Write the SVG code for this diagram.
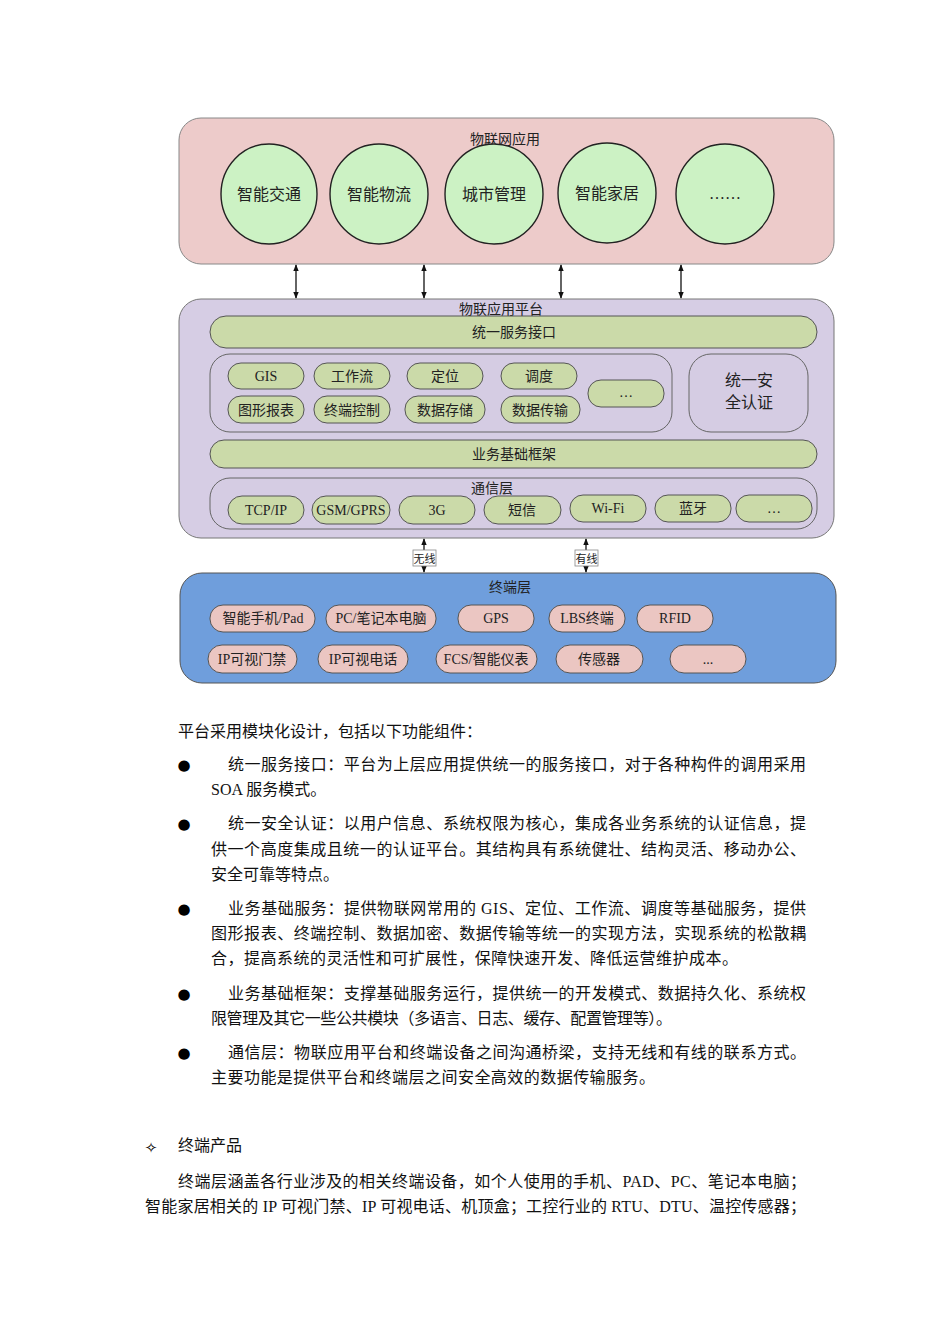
<svg xmlns="http://www.w3.org/2000/svg" width="950" height="1344" viewBox="0 0 950 1344">
<style>
.t{font-family:"Liberation Serif","Noto Sans CJK SC",serif;fill:#222;text-anchor:middle}
.body{font-family:"Liberation Serif","Noto Sans CJK SC",serif;fill:#111;font-size:16px}
.bul{font-family:"DejaVu Sans",sans-serif;fill:#000;font-size:15px;text-anchor:middle}
.ell{fill:#ccf2c4;stroke:#222;stroke-width:1.4}
.grn{fill:#cbdaa9;stroke:#555;stroke-width:1}
.pnk{fill:#ebc6c2;stroke:#555;stroke-width:1}
.lav{fill:#d5cce3;stroke:#666;stroke-width:1}
.arr{stroke:#111;stroke-width:1.3;fill:none;marker-start:url(#ah);marker-end:url(#ah)}
</style>
<defs>
<marker id="ah" viewBox="0 0 10 10" refX="9" refY="5" markerWidth="7" markerHeight="7" orient="auto-start-reverse" markerUnits="userSpaceOnUse"><path d="M0,1 L10,5 L0,9 z" fill="#111"/></marker>
</defs>
<rect width="950" height="1344" fill="#fff"/>

<g id="app-layer">
<rect x="179" y="118" width="655" height="146" rx="22" fill="#edcbca" stroke="#888" stroke-width="1"/>
<text class="t" x="505" y="144" font-size="14">物联网应用</text>
</g>
<g id="app1"><ellipse class="ell" cx="269" cy="194" rx="48" ry="50"/><text class="t" x="269" y="200" font-size="16">智能交通</text></g>
<g id="app2"><ellipse class="ell" cx="379" cy="194" rx="49" ry="50"/><text class="t" x="379" y="200" font-size="16">智能物流</text></g>
<g id="app3"><ellipse class="ell" cx="494" cy="194" rx="49" ry="50"/><text class="t" x="494" y="200" font-size="16">城市管理</text></g>
<g id="app4"><ellipse class="ell" cx="607" cy="193" rx="49" ry="50"/><text class="t" x="607" y="199" font-size="16">智能家居</text></g>
<g id="app5"><ellipse class="ell" cx="725" cy="194" rx="49" ry="50"/><text class="t" x="725" y="199" font-size="16">……</text></g>

<g id="platform">
<rect x="179" y="299" width="655" height="239" rx="22" fill="#d6cde4" stroke="#777" stroke-width="1"/>
<text class="t" x="501" y="314" font-size="14">物联应用平台</text>
</g>
<g id="svc-if"><rect class="grn" x="210" y="316" width="607" height="32" rx="16"/><text class="t" x="514" y="337" font-size="14">统一服务接口</text></g>
<g id="basic-svc">
<rect class="lav" x="210" y="354" width="462" height="78" rx="20"/>
</g>
<g id="gis"><rect class="grn" x="228" y="363" width="76" height="26" rx="13"/><text class="t" x="266" y="381" font-size="14">GIS</text></g>
<g id="workflow"><rect class="grn" x="314" y="363" width="76" height="26" rx="13"/><text class="t" x="352" y="381" font-size="14">工作流</text></g>
<g id="locate"><rect class="grn" x="407" y="363" width="76" height="26" rx="13"/><text class="t" x="445" y="381" font-size="14">定位</text></g>
<g id="dispatch"><rect class="grn" x="501" y="363" width="76" height="26" rx="13"/><text class="t" x="539" y="381" font-size="14">调度</text></g>
<g id="chart"><rect class="grn" x="228" y="396" width="76" height="27" rx="13"/><text class="t" x="266" y="415" font-size="14">图形报表</text></g>
<g id="termctl"><rect class="grn" x="314" y="396" width="76" height="27" rx="13"/><text class="t" x="352" y="415" font-size="14">终端控制</text></g>
<g id="store"><rect class="grn" x="405" y="396" width="80" height="27" rx="13"/><text class="t" x="445" y="415" font-size="14">数据存储</text></g>
<g id="transfer"><rect class="grn" x="501" y="396" width="79" height="27" rx="13"/><text class="t" x="540" y="415" font-size="14">数据传输</text></g>
<g id="svc-more"><rect class="grn" x="588" y="380" width="76" height="27" rx="13"/><text class="t" x="626" y="397" font-size="14">…</text></g>
<g id="auth"><rect class="lav" x="689" y="354" width="119" height="78" rx="22"/><text class="t" x="749" y="386" font-size="16">统一安</text><text class="t" x="749" y="408" font-size="16">全认证</text></g>
<g id="framework"><rect class="grn" x="210" y="440" width="607" height="28" rx="14"/><text class="t" x="514" y="459" font-size="14">业务基础框架</text></g>
<g id="comm">
<rect class="lav" x="210" y="478" width="607" height="51" rx="20"/>
<text class="t" x="492" y="493" font-size="14">通信层</text>
</g>
<g id="tcp"><rect class="grn" x="228" y="496" width="76" height="28" rx="14"/><text class="t" x="266" y="515" font-size="14">TCP/IP</text></g>
<g id="gsm"><rect class="grn" x="312" y="496" width="78" height="28" rx="14"/><text class="t" x="351" y="515" font-size="14">GSM/GPRS</text></g>
<g id="g3"><rect class="grn" x="399" y="496" width="76" height="28" rx="14"/><text class="t" x="437" y="515" font-size="14">3G</text></g>
<g id="sms"><rect class="grn" x="484" y="496" width="77" height="28" rx="14"/><text class="t" x="522" y="515" font-size="14">短信</text></g>
<g id="wifi"><rect class="grn" x="570" y="495" width="76" height="27" rx="13"/><text class="t" x="608" y="513" font-size="14">Wi-Fi</text></g>
<g id="bt"><rect class="grn" x="655" y="495" width="76" height="27" rx="13"/><text class="t" x="693" y="513" font-size="14">蓝牙</text></g>
<g id="comm-more"><rect class="grn" x="736" y="495" width="76" height="27" rx="13"/><text class="t" x="774" y="513" font-size="14">…</text></g>

<g id="terminal">
<rect x="180" y="573" width="656" height="110" rx="22" fill="#6f9edc" stroke="#555" stroke-width="1"/>
<text class="t" x="510" y="592" font-size="14">终端层</text>
</g>
<g id="phone"><rect class="pnk" x="210" y="605" width="105" height="27" rx="13"/><text class="t" x="263" y="623" font-size="14">智能手机/Pad</text></g>
<g id="pc"><rect class="pnk" x="326" y="605" width="110" height="27" rx="13"/><text class="t" x="381" y="623" font-size="14">PC/笔记本电脑</text></g>
<g id="gps"><rect class="pnk" x="458" y="605" width="76" height="27" rx="13"/><text class="t" x="496" y="623" font-size="14">GPS</text></g>
<g id="lbs"><rect class="pnk" x="549" y="605" width="76" height="27" rx="13"/><text class="t" x="587" y="623" font-size="14">LBS终端</text></g>
<g id="rfid"><rect class="pnk" x="637" y="605" width="76" height="27" rx="13"/><text class="t" x="675" y="623" font-size="14">RFID</text></g>
<g id="ipdoor"><rect class="pnk" x="208" y="645" width="89" height="28" rx="14"/><text class="t" x="252" y="664" font-size="14">IP可视门禁</text></g>
<g id="ipphone"><rect class="pnk" x="318" y="645" width="90" height="28" rx="14"/><text class="t" x="363" y="664" font-size="14">IP可视电话</text></g>
<g id="fcs"><rect class="pnk" x="436" y="645" width="101" height="28" rx="14"/><text class="t" x="486" y="664" font-size="14">FCS/智能仪表</text></g>
<g id="sensor"><rect class="pnk" x="556" y="645" width="87" height="28" rx="14"/><text class="t" x="599" y="664" font-size="14">传感器</text></g>
<g id="term-more"><rect class="pnk" x="670" y="645" width="76" height="28" rx="14"/><text class="t" x="708" y="664" font-size="14">...</text></g>

<g id="connectors">
<line class="arr" x1="296" y1="265" x2="296" y2="298"/>
<line class="arr" x1="424" y1="265" x2="424" y2="298"/>
<line class="arr" x1="561" y1="265" x2="561" y2="298"/>
<line class="arr" x1="681" y1="265" x2="681" y2="298"/>
<line class="arr" x1="424" y1="539" x2="424" y2="572"/>
<line class="arr" x1="586" y1="539" x2="586" y2="572"/>
<rect x="413" y="550" width="23" height="16" fill="#fff" stroke="#888" stroke-width="0.8"/>
<text class="t" x="424.5" y="563" font-size="11">无线</text>
<rect x="575" y="550" width="23" height="16" fill="#fff" stroke="#888" stroke-width="0.8"/>
<text class="t" x="586.5" y="563" font-size="11">有线</text>
</g>

<g id="text-body">
<text class="body" x="178" y="737">平台采用模块化设计，包括以下功能组件：</text>
<text class="bul" x="184" y="770">●</text>
<text class="body" x="228" y="770" textLength="578" lengthAdjust="spacing">统一服务接口：平台为上层应用提供统一的服务接口，对于各种构件的调用采用</text>
<text class="body" x="211" y="795">SOA 服务模式。</text>
<text class="bul" x="184" y="829">●</text>
<text class="body" x="228" y="829" textLength="578" lengthAdjust="spacing">统一安全认证：以用户信息、系统权限为核心，集成各业务系统的认证信息，提</text>
<text class="body" x="211" y="855" textLength="595" lengthAdjust="spacing">供一个高度集成且统一的认证平台。其结构具有系统健壮、结构灵活、移动办公、</text>
<text class="body" x="211" y="880">安全可靠等特点。</text>
<text class="bul" x="184" y="914">●</text>
<text class="body" x="228" y="914" textLength="578" lengthAdjust="spacing">业务基础服务：提供物联网常用的 GIS、定位、工作流、调度等基础服务，提供</text>
<text class="body" x="211" y="939" textLength="595" lengthAdjust="spacing">图形报表、终端控制、数据加密、数据传输等统一的实现方法，实现系统的松散耦</text>
<text class="body" x="211" y="964" textLength="527" lengthAdjust="spacing">合，提高系统的灵活性和可扩展性，保障快速开发、降低运营维护成本。</text>
<text class="bul" x="184" y="999">●</text>
<text class="body" x="228" y="999" textLength="578" lengthAdjust="spacing">业务基础框架：支撑基础服务运行，提供统一的开发模式、数据持久化、系统权</text>
<text class="body" x="211" y="1024" textLength="461" lengthAdjust="spacing">限管理及其它一些公共模块（多语言、日志、缓存、配置管理等）。</text>
<text class="bul" x="184" y="1058">●</text>
<text class="body" x="228" y="1058" textLength="578" lengthAdjust="spacing">通信层：物联应用平台和终端设备之间沟通桥梁，支持无线和有线的联系方式。</text>
<text class="body" x="211" y="1083" textLength="444" lengthAdjust="spacing">主要功能是提供平台和终端层之间安全高效的数据传输服务。</text>
<text class="bul" x="151" y="1153" font-size="22">✧</text>
<text class="body" x="178" y="1151">终端产品</text>
<text class="body" x="178" y="1187" textLength="628" lengthAdjust="spacing">终端层涵盖各行业涉及的相关终端设备，如个人使用的手机、PAD、PC、笔记本电脑；</text>
<text class="body" x="145" y="1212" textLength="661" lengthAdjust="spacing">智能家居相关的 IP 可视门禁、IP 可视电话、机顶盒；工控行业的 RTU、DTU、温控传感器；</text>
</g>
</svg>
